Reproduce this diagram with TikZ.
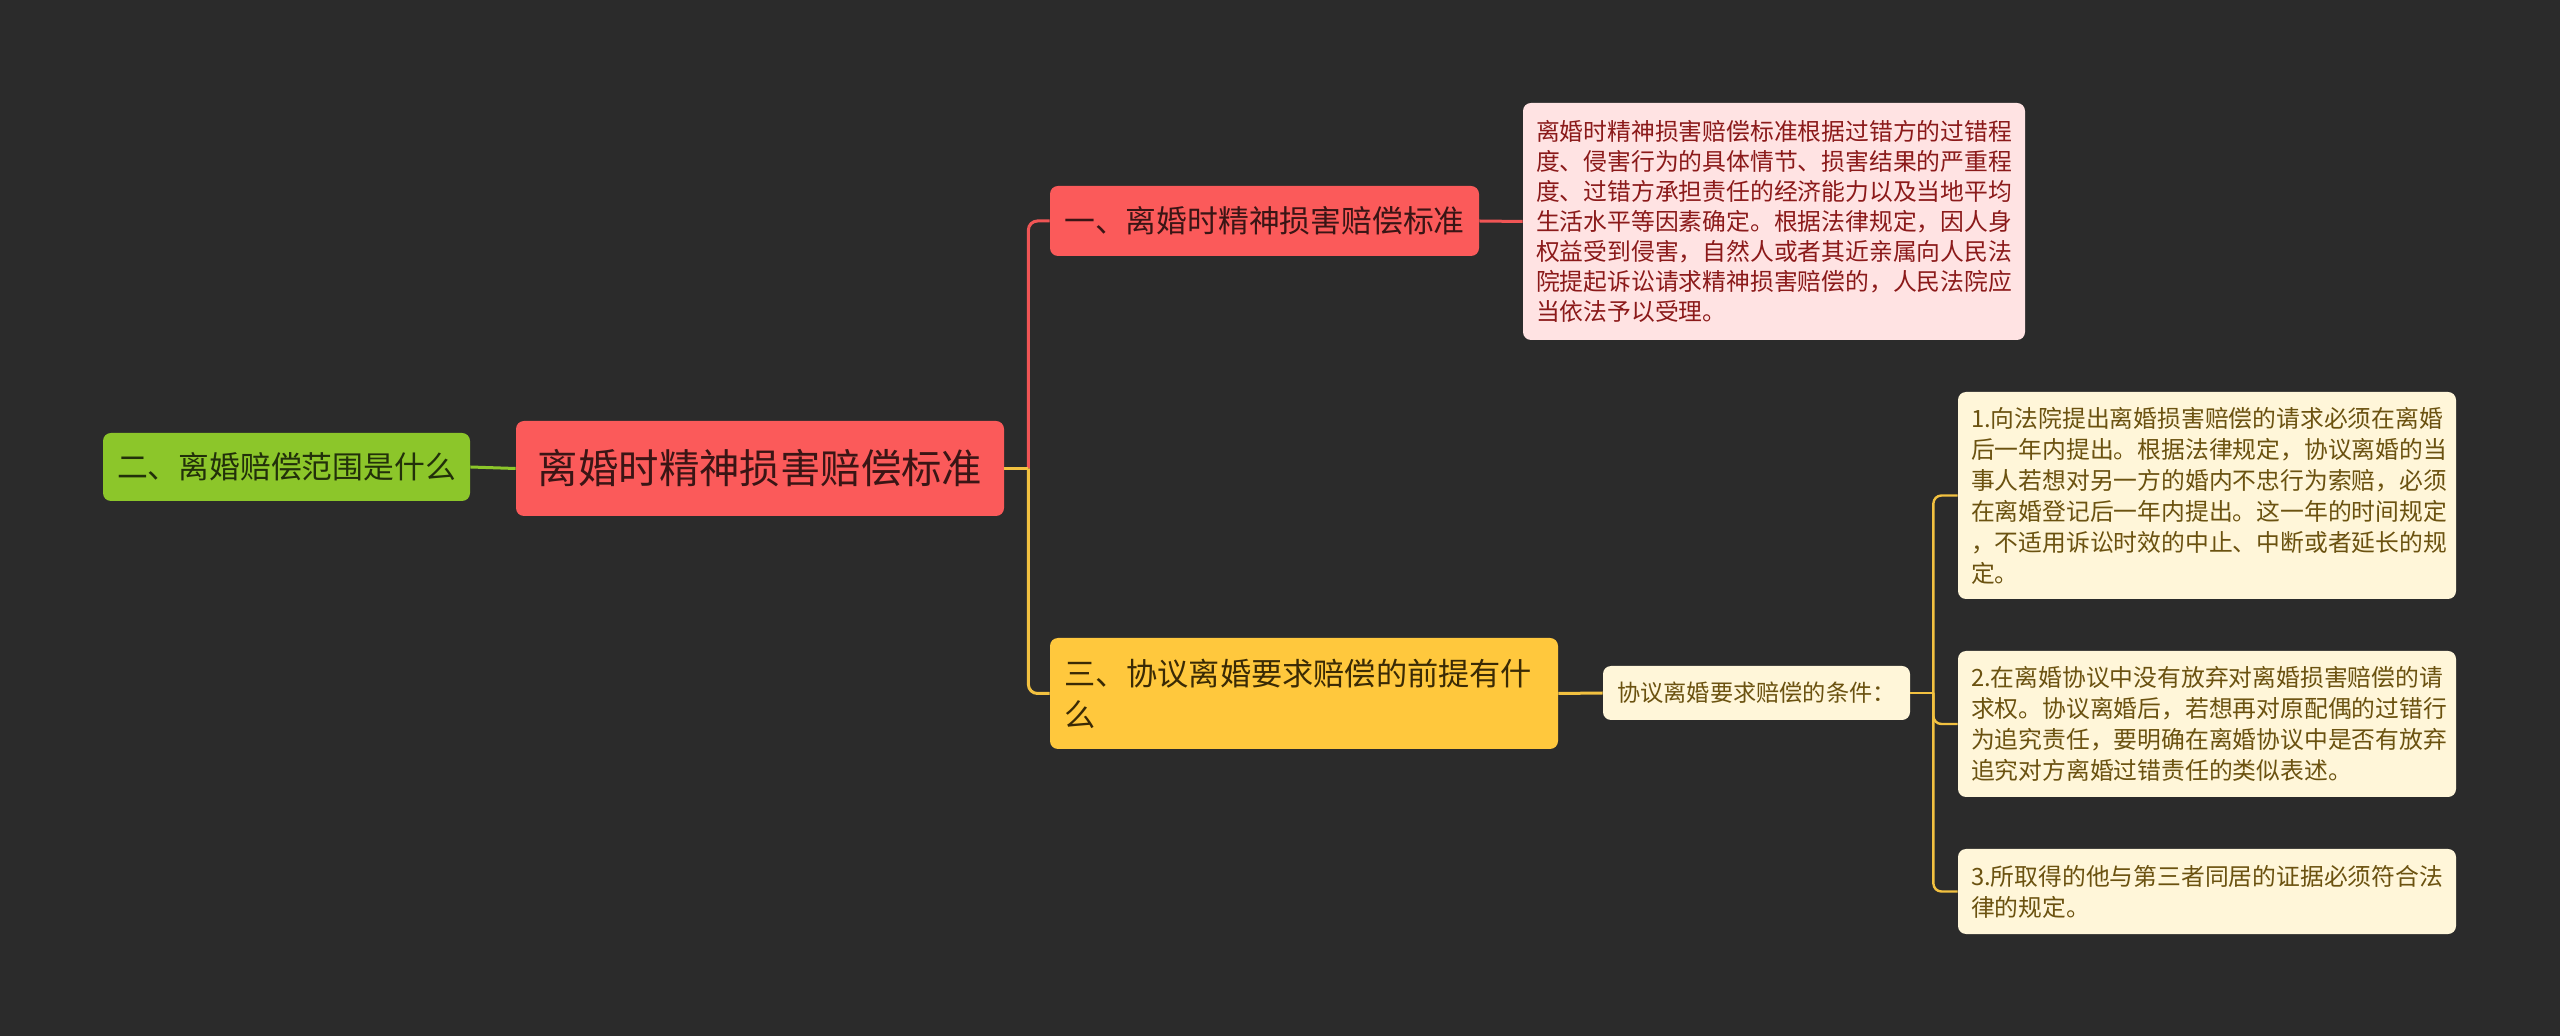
\documentclass[tikz,border=0pt]{standalone}
\usepackage{fontspec}
\setmainfont{Noto Sans CJK SC}
\definecolor{bg}{HTML}{2B2B2B}
\definecolor{rednode}{HTML}{FB5A5A}
\definecolor{redtext}{HTML}{3A1515}
\definecolor{greennode}{HTML}{8CC62A}
\definecolor{greentext}{HTML}{22300A}
\definecolor{yellownode}{HTML}{FFC83D}
\definecolor{yellowtext}{HTML}{3A2A05}
\definecolor{pinkfill}{HTML}{FFE3E3}
\definecolor{pinktext}{HTML}{8B1A1A}
\definecolor{creamfill}{HTML}{FFF6D9}
\definecolor{creamtext}{HTML}{6B5210}
\definecolor{redline}{HTML}{F05555}
\definecolor{yellowline}{HTML}{F2C140}
\definecolor{greenline}{HTML}{8CC62A}
\tikzset{
  box/.style={rounded corners=4pt, inner sep=0pt, align=center},
  mainbox/.style={box, fill=rednode, text=redtext, font=\fontsize{20.2pt}{26pt}\selectfont},
  subred/.style={box, fill=rednode, text=redtext, font=\fontsize{15.4pt}{20pt}\selectfont},
  subgreen/.style={box, fill=greennode, text=greentext, font=\fontsize{15.4pt}{20pt}\selectfont},
  subyellow/.style={box, fill=yellownode, text=yellowtext, font=\fontsize{15.6pt}{20.5pt}\selectfont},
  pinkbox/.style={box, fill=pinkfill, text=pinktext, align=left, font=\fontsize{11.9pt}{15pt}\selectfont},
  creambox/.style={box, fill=creamfill, text=creamtext, align=left, font=\fontsize{11.9pt}{15.5pt}\selectfont},
  condbox/.style={box, fill=creamfill, text=creamtext, font=\fontsize{11.6pt}{15pt}\selectfont},
  rline/.style={draw=redline, line width=1.5pt, rounded corners=4.5pt},
  yline/.style={draw=yellowline, line width=1.5pt, rounded corners=4.5pt},
  gline/.style={draw=greenline, line width=1.5pt},
  cline/.style={draw=yellowline, line width=1.2pt, rounded corners=4pt}
}
\begin{document}
\begin{tikzpicture}[x=0.5pt,y=-0.5pt]
\fill[bg] (0,0) rectangle (2560,1036);
\useasboundingbox (0,0) rectangle (2560,1036);

\node[mainbox, minimum width=244pt, minimum height=47.5pt] (c) at (760,468.5) {离婚时精神损害赔偿标准};
\node[subgreen, minimum width=183.5pt, minimum height=34pt] (g) at (286.5,467) {二、离婚赔偿范围是什么};
\node[subred, minimum width=214.5pt, minimum height=35pt] (a) at (1264.5,221) {一、离婚时精神损害赔偿标准};
\node[subyellow, minimum width=254pt, minimum height=55.5pt, text width=240pt, align=left] (b) at (1304,693.5) {三、协议离婚要求赔偿的前提有什\\么};
\node[condbox, minimum width=153.5pt, minimum height=27pt] (k) at (1756.5,693) {协议离婚要求赔偿的条件：};

\node[pinkbox, minimum width=251pt, minimum height=118.5pt, text width=238pt] (p) at (1774,221.5) {离婚时精神损害赔偿标准根据过错方的过错程\\度、侵害行为的具体情节、损害结果的严重程\\度、过错方承担责任的经济能力以及当地平均\\生活水平等因素确定。根据法律规定，因人身\\权益受到侵害，自然人或者其近亲属向人民法\\院提起诉讼请求精神损害赔偿的，人民法院应\\当依法予以受理。};

\node[creambox, minimum width=249pt, minimum height=103.5pt, text width=236pt] (d1) at (2207,495.5) {1.向法院提出离婚损害赔偿的请求必须在离婚\\后一年内提出。根据法律规定，协议离婚的当\\事人若想对另一方的婚内不忠行为索赔，必须\\在离婚登记后一年内提出。这一年的时间规定\\，不适用诉讼时效的中止、中断或者延长的规\\定。};
\node[creambox, minimum width=249pt, minimum height=73pt, text width=236pt] (d2) at (2207,724) {2.在离婚协议中没有放弃对离婚损害赔偿的请\\求权。协议离婚后，若想再对原配偶的过错行\\为追究责任，要明确在离婚协议中是否有放弃\\追究对方离婚过错责任的类似表述。};
\node[creambox, minimum width=249pt, minimum height=42.5pt, text width=236pt] (d3) at (2207,891.5) {3.所取得的他与第三者同居的证据必须符合法\\律的规定。};

\draw[gline] (g.east) -- (c.west);
\draw[rline] (c.east) ++(24,0) |- (a.west);
\draw[yline] (c.east) ++(24,0) |- (b.west);
\draw[yline] (c.east) -- ++(24,0);
\draw[rline] (a.east) -- (p.west);
\draw[yline] (b.east) -- (k.west);
\draw[cline] (k.east) ++(23,0) |- (d1.west);
\draw[cline] (k.east) ++(23,0) |- (d2.west);
\draw[cline] (k.east) ++(23,0) |- (d3.west);
\draw[cline] (k.east) -- ++(23,0);
\end{tikzpicture}
\end{document}
